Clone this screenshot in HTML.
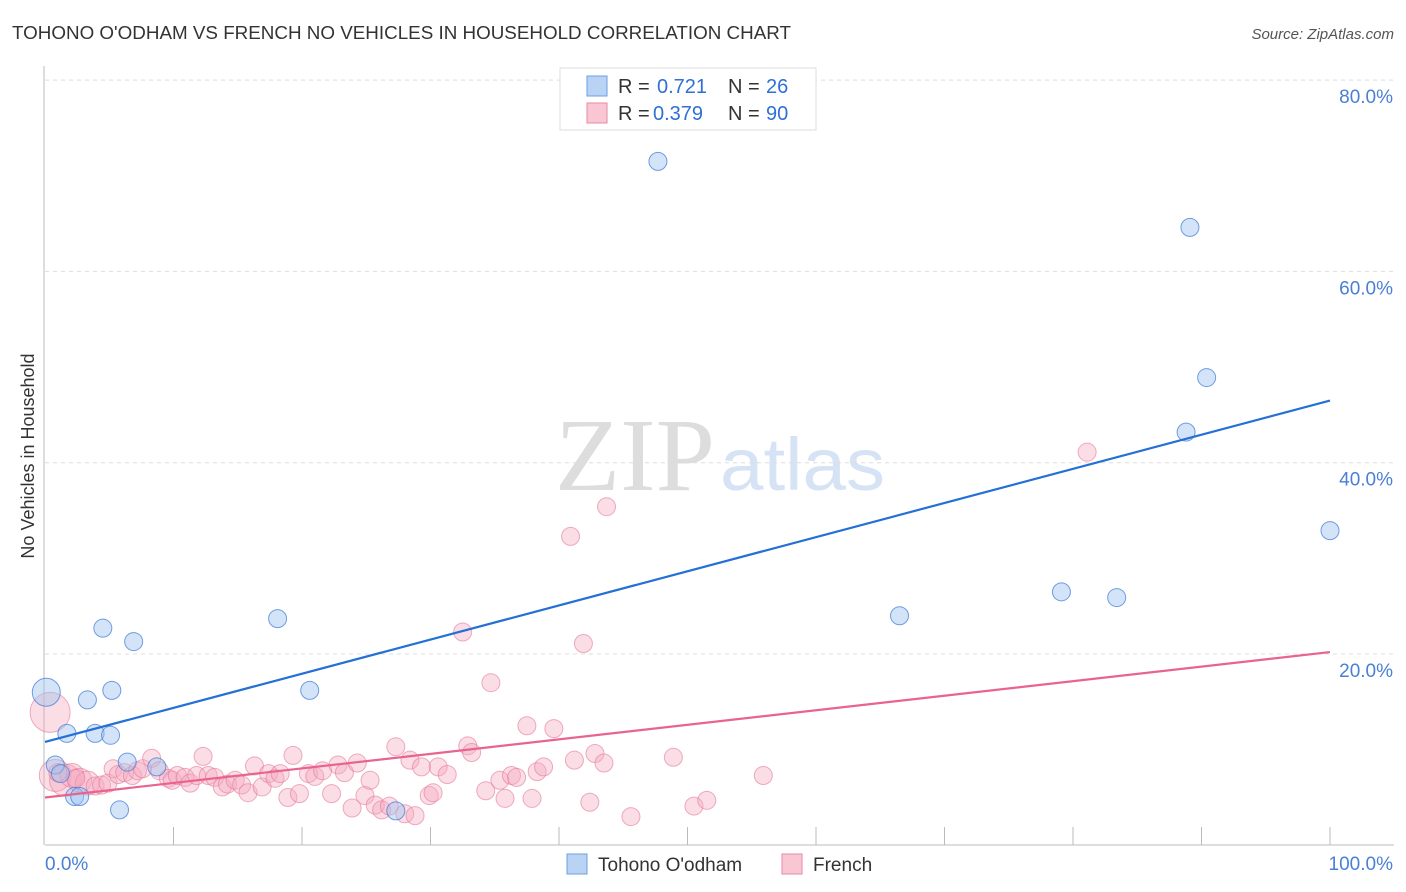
<!DOCTYPE html>
<html><head><meta charset="utf-8">
<style>
body{margin:0;background:#fff;font-family:"Liberation Sans",sans-serif;}
#wrap{position:relative;width:1406px;height:892px;overflow:hidden;}
</style></head>
<body>
<div id="wrap">
<svg id="svg" width="1406" height="892" xmlns="http://www.w3.org/2000/svg">
<text x="12" y="39" font-size="18" fill="#333" textLength="779" lengthAdjust="spacingAndGlyphs">TOHONO O'ODHAM VS FRENCH NO VEHICLES IN HOUSEHOLD CORRELATION CHART</text>
<text x="1394" y="39" font-size="15" fill="#555" font-style="italic" text-anchor="end">Source: ZipAtlas.com</text>
<text x="555" y="490" font-size="104" fill="#ddd" font-family="Liberation Serif, serif" textLength="160" lengthAdjust="spacingAndGlyphs">ZIP</text>
<text x="720" y="490" font-size="74" fill="#d6e3f5" textLength="165" lengthAdjust="spacingAndGlyphs">atlas</text>
<text transform="translate(34,456) rotate(-90)" font-size="18" fill="#333" text-anchor="middle">No Vehicles in Household</text>
<g id="grid"></g><g id="pts"></g><g id="lines"></g>
<g>
<rect x="560" y="68" width="256" height="62" fill="#fff" stroke="#ddd"/>
<rect x="587" y="76" width="20" height="20" fill="#b9d3f5" stroke="#6d9ee0"/>
<text x="618" y="93" font-size="20" fill="#333">R = </text>
<text x="657" y="93" font-size="20" fill="#2f6fd6">0.721</text>
<text x="728" y="93" font-size="20" fill="#333">N = </text>
<text x="766" y="93" font-size="20" fill="#2f6fd6">26</text>
<rect x="587" y="103" width="20" height="20" fill="#f9c6d3" stroke="#e58aa5"/>
<text x="618" y="120" font-size="20" fill="#333">R = </text>
<text x="653" y="120" font-size="20" fill="#2f6fd6">0.379</text>
<text x="728" y="120" font-size="20" fill="#333">N = </text>
<text x="766" y="120" font-size="20" fill="#2f6fd6">90</text>
</g>
<g>
<rect x="567" y="854" width="20" height="20" fill="#b9d3f5" stroke="#6d9ee0"/>
<text x="598" y="871" font-size="19" fill="#333">Tohono O'odham</text>
<rect x="782" y="854" width="20" height="20" fill="#f9c6d3" stroke="#e58aa5"/>
<text x="813" y="871" font-size="19" fill="#333">French</text>
</g>
</svg>
</div>
<script>
const yTicks=[20,40,60,80];
const xTickLabels=["0.0%","100.0%"];
const blueX=[0.1,0.8,1.2,1.7,2.3,2.7,3.3,3.9,4.5,5.1,5.2,5.8,6.4,6.9,8.7,18.1,20.6,27.3,47.7,66.5,79.1,83.4,88.8,89.1,90.4,100];
const blueY=[16.0,8.4,7.5,11.7,5.1,5.1,15.2,11.7,22.7,11.5,16.2,3.7,8.7,21.3,8.2,23.7,16.2,3.6,71.5,24.0,26.5,25.9,43.2,64.6,48.9,32.9];
const pinkX=[0.4,0.8,1.6,2.1,2.7,3.3,3.9,4.4,4.9,5.3,5.7,6.2,6.8,7.2,7.6,8.3,8.9,9.6,9.9,10.3,10.9,11.3,11.8,12.3,12.7,13.2,13.8,14.2,14.8,15.3,15.8,16.3,16.9,17.4,17.9,18.3,18.9,19.3,19.8,20.5,21.0,21.6,22.3,22.8,23.3,23.9,24.3,24.9,25.3,25.7,26.2,26.8,27.3,28.0,28.4,28.8,29.3,29.9,30.2,30.6,31.3,32.5,32.9,33.2,34.3,34.7,35.4,35.8,36.3,36.7,37.5,37.9,38.3,38.8,39.6,40.9,41.2,42.4,41.9,42.8,43.5,43.7,45.6,48.9,50.5,51.5,55.9,81.1,1.0,2.4];
const pinkY=[13.9,7.3,6.8,7.3,6.8,6.5,6.2,6.3,6.5,8.0,7.4,7.6,7.3,7.8,8.0,9.1,7.8,7.0,6.8,7.3,7.1,6.5,7.3,9.3,7.3,7.1,6.1,6.4,6.8,6.3,5.5,8.3,6.1,7.5,7.0,7.5,5.0,9.4,5.4,7.5,7.2,7.8,5.4,8.4,7.6,3.9,8.6,5.2,6.8,4.2,3.7,4.1,10.3,3.3,8.9,3.1,8.2,5.2,5.5,8.2,7.4,22.3,10.4,9.7,5.7,17.0,6.8,4.9,7.3,7.1,12.5,4.9,7.7,8.2,12.2,32.3,8.9,4.5,21.1,9.6,8.6,35.4,3.0,9.2,4.1,4.7,7.3,41.1,7.6,7.0];
const blueTrend=[10.8,46.5];
const pinkTrend=[5.0,20.2];
const NS="http://www.w3.org/2000/svg";
const X=v=>45+v/100*1285;
const Y=v=>845.3-v/20*191.3;
function mk(tag,attrs,parent){const e=document.createElementNS(NS,tag);for(const k in attrs)e.setAttribute(k,attrs[k]);parent.appendChild(e);return e;}
const grid=document.getElementById('grid');
yTicks.forEach(t=>{
  const l=mk('line',{x1:45,x2:1394,y1:Y(t),y2:Y(t),stroke:'#ddd','stroke-dasharray':'4,4'},grid);
  
  
  const tx=mk('text',{x:1393,y:Y(t)+23,'font-size':19,fill:'#4a7fd6','text-anchor':'end'},grid);
  tx.textContent=t.toFixed(1)+'%';
  
  
});
const ax=mk('line',{x1:45,x2:1394,y1:845,y2:845,stroke:'#bbb'},grid);


const ay=mk('line',{x1:44,x2:44,y1:66,y2:845,stroke:'#bbb'},grid);


for(let i=1;i<=10;i++){
  const t=mk('line',{x1:X(i*10),x2:X(i*10),y1:827,y2:845,stroke:'#bbb'},grid);
  
  
}
[[0,'start',45],[100,'end',1393]].forEach((d,i)=>{
  const tx=mk('text',{x:d[2],y:870,'font-size':19,fill:'#4a7fd6','text-anchor':d[1]},grid);
  tx.textContent=xTickLabels[i];
  
  
});
const pts=document.getElementById('pts');
pinkX.forEach((x,i)=>{
  const r=i===0?20:(i<3?16:(i<6?12:9));
  const c=mk('circle',{cx:X(x),cy:Y(pinkY[i]),r:r,fill:'rgba(246,170,192,0.4)',stroke:'rgba(228,120,155,0.6)','stroke-width':1},pts);
  
  
});
blueX.forEach((x,i)=>{
  const r=i===0?14:9;
  const c=mk('circle',{cx:X(x),cy:Y(blueY[i]),r:r,fill:'rgba(160,195,240,0.45)',stroke:'rgba(70,125,215,0.75)','stroke-width':1},pts);
  
  
});
const lines=document.getElementById('lines');
const bl=mk('line',{x1:X(0),y1:Y(blueTrend[0]),x2:X(100),y2:Y(blueTrend[1]),stroke:'#2470d6','stroke-width':2.2},lines);


const pl=mk('line',{x1:X(0),y1:Y(pinkTrend[0]),x2:X(100),y2:Y(pinkTrend[1]),stroke:'#e8648e','stroke-width':2.2},lines);


</script>
</body></html>
